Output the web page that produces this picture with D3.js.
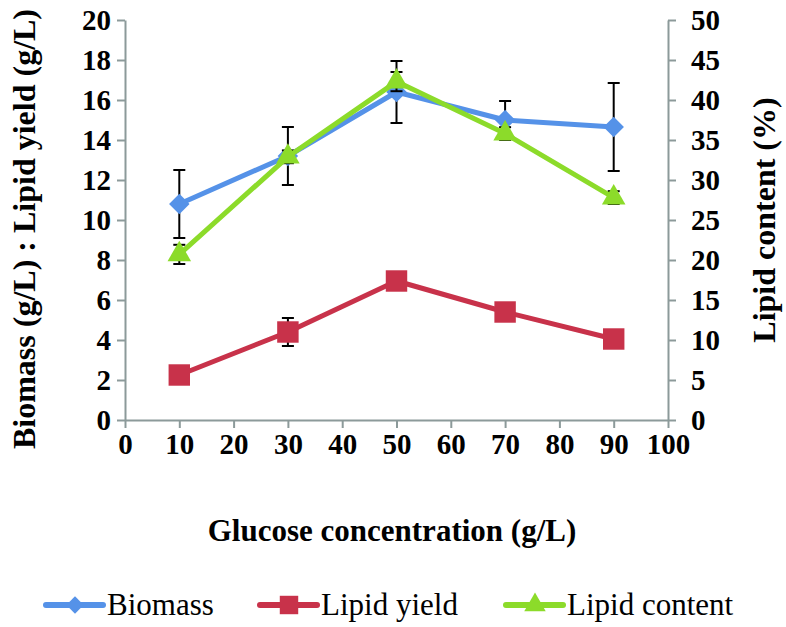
<!DOCTYPE html>
<html><head><meta charset="utf-8">
<script src="https://cdn.jsdelivr.net/npm/d3@7"></script>
<style>body{margin:0;background:#fff}svg{display:block}
text{font-family:"Liberation Serif","Tinos","Times New Roman","DejaVu Serif",serif}</style>
</head><body>
<script>
const glucose = [10, 30, 50, 70, 90];
const biomass = [10.8, 13.2, 16.4, 15.0, 14.65];
const biomassErr = [1.7, 1.45, 1.55, 0.95, 2.2];
const lipidYield = [2.25, 4.4, 6.95, 5.4, 4.05];
const lipidYieldErr = [0.15, 0.7, 0.3, 0.2, 0.3];
const lipidContent = [20.7, 32.9, 42.3, 35.8, 27.8];
const lipidContentErr = [1.2, 0.8, 1.2, 0.8, 0.8];
const xTicks = [0,10,20,30,40,50,60,70,80,90,100];
const yLeftTicks = [0,2,4,6,8,10,12,14,16,18,20];
const yRightTicks = [0,5,10,15,20,25,30,35,40,45,50];
const seriesNames = ["Biomass", "Lipid yield", "Lipid content"];
const colors = ["#5592E8", "#C8324A", "#8CDB2A"];

const W = 786, H = 627;
const svg = d3.select("body").append("svg").attr("width", W).attr("height", H);
const x = d3.scaleLinear().domain([0,100]).range([125, 668]);
const yL = d3.scaleLinear().domain([0,20]).range([420, 20]);
const yR = d3.scaleLinear().domain([0,50]).range([420, 20]);
const axisColor = "#8C9A9A";
const font = '"Liberation Serif","Tinos","Times New Roman","DejaVu Serif",serif';

function styleAxis(g){
  g.attr("font-family", font).attr("font-size", 29).attr("font-weight", "bold");
  g.selectAll("path,line").attr("stroke", axisColor).attr("stroke-width", 2);
  g.selectAll(".tick text").style("font-family", font).style("font-weight", "bold").style("font-size", "29px").attr("fill", "#000");
}
svg.append("g").attr("transform","translate(0,420)")
  .call(d3.axisBottom(x).tickValues(xTicks).tickSize(8).tickSizeOuter(0).tickPadding(5))
  .call(styleAxis);
svg.append("g").attr("transform","translate(125,0)")
  .call(d3.axisLeft(yL).tickValues(yLeftTicks).tickSize(8).tickSizeOuter(0).tickPadding(6))
  .call(styleAxis);
svg.append("g").attr("transform","translate(668,0)")
  .call(d3.axisRight(yR).tickValues(yRightTicks).tickSize(8).tickSizeOuter(0).tickPadding(15))
  .call(styleAxis);

// axis titles
svg.append("text").attr("transform","translate(35,229) rotate(-90)").attr("text-anchor","middle")
  .style("font-family",font).attr("font-weight","bold").attr("font-size",32).text("Biomass (g/L) : Lipid yield (g/L)");
svg.append("text").attr("transform","translate(775,220) rotate(-90)").attr("text-anchor","middle")
  .style("font-family",font).attr("font-weight","bold").attr("font-size",32).text("Lipid content (%)");
svg.append("text").attr("x",392).attr("y",541).attr("text-anchor","middle")
  .style("font-family",font).attr("font-weight","bold").attr("font-size",31).text("Glucose concentration (g/L)");

function errBars(vals, errs, ys){
  const g = svg.append("g").attr("stroke","#000").attr("stroke-width",2);
  vals.forEach((v,i)=>{
    const cx = x(glucose[i]);
    g.append("line").attr("x1",cx).attr("x2",cx).attr("y1",ys(v-errs[i])).attr("y2",ys(v+errs[i]));
    g.append("line").attr("x1",cx-6).attr("x2",cx+6).attr("y1",ys(v-errs[i])).attr("y2",ys(v-errs[i]));
    g.append("line").attr("x1",cx-6).attr("x2",cx+6).attr("y1",ys(v+errs[i])).attr("y2",ys(v+errs[i]));
  });
}
function series(vals, ys, color, symType, size, rot){
  const line = d3.line().x((d,i)=>x(glucose[i])).y(d=>ys(d));
  svg.append("path").datum(vals).attr("d",line).attr("fill","none").attr("stroke",color).attr("stroke-width",5).attr("stroke-linejoin","round");
  const sym = d3.symbol().type(symType).size(size);
  svg.append("g").selectAll("path").data(vals).join("path")
    .attr("transform",(d,i)=>`translate(${x(glucose[i])},${ys(d)}) rotate(${rot})`)
    .attr("d",sym).attr("fill",color);
}
errBars(lipidYield, lipidYieldErr, yL);
series(lipidYield, yL, colors[1], d3.symbolSquare, 460, 0);
errBars(biomass, biomassErr, yL);
series(biomass, yL, colors[0], d3.symbolSquare, 210, 45);
errBars(lipidContent, lipidContentErr, yR);
series(lipidContent, yR, colors[2], d3.symbolTriangle, 240, 0);

// legend
const legendX = [46, 260, 506];
const legendSyms = [d3.symbolSquare, d3.symbolSquare, d3.symbolTriangle];
const legendSizes = [150, 340, 200];
const legendRot = [45, 0, 0];
seriesNames.forEach((n,i)=>{
  const g = svg.append("g").attr("transform",`translate(${legendX[i]},605)`);
  g.append("line").attr("x1",0).attr("x2",57).attr("y1",0).attr("y2",0).attr("stroke",colors[i]).attr("stroke-width",6).attr("stroke-linecap","round");
  g.append("path").attr("transform",`translate(29,0) rotate(${legendRot[i]})`).attr("d",d3.symbol().type(legendSyms[i]).size(legendSizes[i])).attr("fill",colors[i]);
  g.append("text").attr("x",61).attr("y",10).style("font-family",font).attr("font-size",31).text(n);
});
</script>
</body></html>
